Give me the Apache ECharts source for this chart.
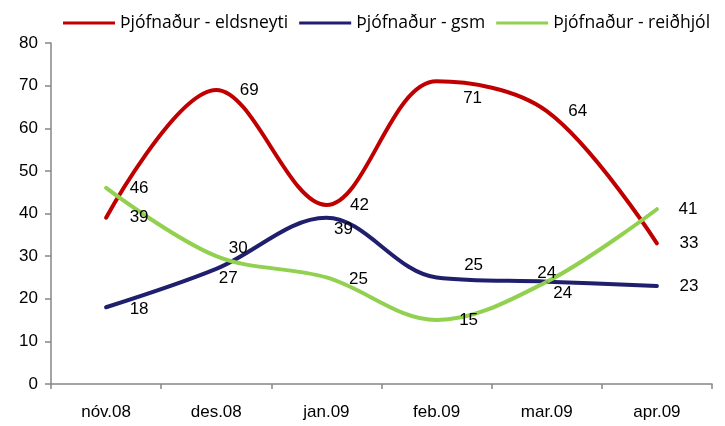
<!DOCTYPE html>
<html>
<head>
<meta charset="utf-8">
<script src="https://cdn.jsdelivr.net/npm/echarts@6/dist/echarts.min.js"></script>
<style>
html,body{margin:0;padding:0;background:#fff;}
#chart{width:725px;height:426px;}
</style>
</head>
<body>
<div id="chart"></div>
<script>
var categories = ['nóv.08', 'des.08', 'jan.09', 'feb.09', 'mar.09', 'apr.09'];
var eldsneyti = [39, 69, 42, 71, 64, 33];
var gsm = [18, 27, 39, 25, 24, 23];
var reidhjol = [46, 30, 25, 15, 24, 41];
var yTicks = [0, 10, 20, 30, 40, 50, 60, 70, 80];

// label offsets (styling only, per point)
var offEld = [[33,0],[33,0],[33,0],[36,17],[31,0],[32,0]];
var offGsm = [[33,2],[12,9],[17,12],[37,-12],[0,-8],[32,0]];
var offRei = [[33,0],[22,-8],[32,2],[32,0],[16,12],[31,0]];

function build(vals, offs){
  return vals.map(function(v,i){
    return {value: v, label: {offset: offs[i]}};
  });
}

var font = 'Liberation Sans, Arial, sans-serif';
var chart = echarts.init(document.getElementById('chart'), null, {renderer:'canvas'});

function series(name, vals, offs, color){
  return {
    name: name,
    type: 'line',
    smooth: 0.35,
    data: build(vals, offs),
    symbol: 'circle',
    symbolSize: 2,
    showSymbol: true,
    lineStyle: {width: 4, color: color, cap: 'round'},
    itemStyle: {color: color},
    label: {show: true, position: 'inside', color: '#000', fontSize: 17, fontFamily: font},
    emphasis: {disabled: true},
    animation: false
  };
}

chart.setOption({
  animation: false,
  backgroundColor: '#fff',
  grid: {left: 51, right: 13, top: 43, bottom: 42, containLabel: false},
  legend: {
    top: 9,
    left: 58,
    itemWidth: 52,
    itemHeight: 3,
    itemGap: 11,
    icon: 'rect',
    textStyle: {fontSize: 17.5, fontFamily: 'Open Sans, sans-serif', color: '#000'},
    data: ['Þjófnaður - eldsneyti', 'Þjófnaður - gsm', 'Þjófnaður - reiðhjól']
  },
  xAxis: {
    type: 'category',
    data: categories,
    boundaryGap: true,
    axisLine: {lineStyle: {color: '#868686', width: 1.5}},
    axisTick: {show: true, length: 5, lineStyle: {color: '#868686', width: 1.5}},
    axisLabel: {fontSize: 17, fontFamily: font, color: '#000', margin: 20}
  },
  yAxis: {
    type: 'value',
    min: yTicks[0],
    max: yTicks[yTicks.length-1],
    interval: 10,
    splitLine: {show: false},
    axisLine: {show: true, lineStyle: {color: '#868686', width: 1.5}},
    axisTick: {show: true, length: 6, lineStyle: {color: '#868686', width: 1.5}},
    axisLabel: {fontSize: 17, fontFamily: font, color: '#000', margin: 13}
  },
  series: [
    series('Þjófnaður - eldsneyti', eldsneyti, offEld, '#C00000'),
    series('Þjófnaður - gsm', gsm, offGsm, '#1F1F6E'),
    series('Þjófnaður - reiðhjól', reidhjol, offRei, '#92D050')
  ]
});
</script>
</body>
</html>
